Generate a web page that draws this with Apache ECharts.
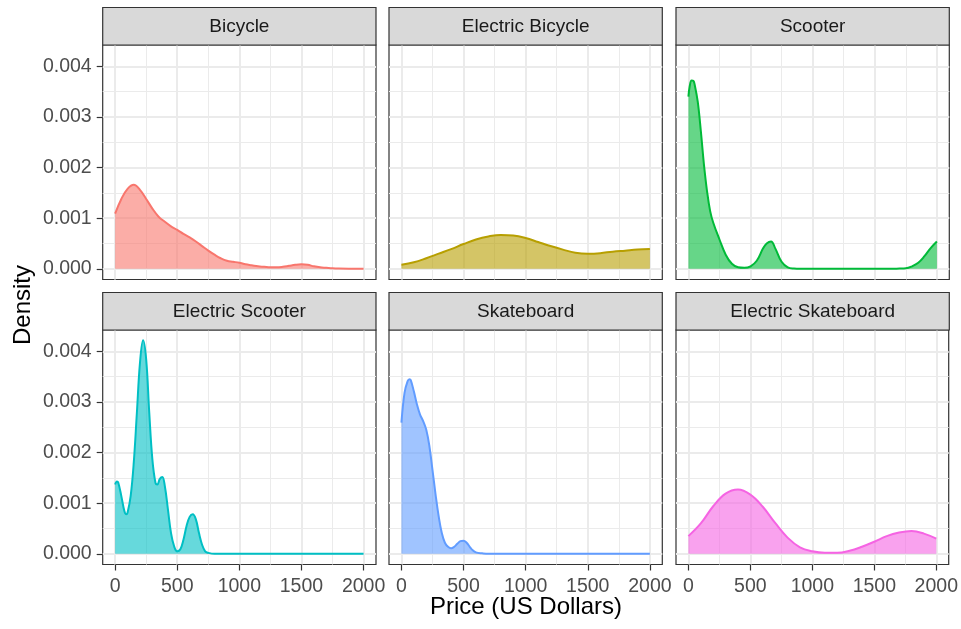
<!DOCTYPE html>
<html><head><meta charset="utf-8">
<script src="https://cdn.jsdelivr.net/npm/echarts@6/dist/echarts.min.js"></script>
<style>html,body{margin:0;padding:0;background:#fff}#chart{width:961px;height:629px}</style>
</head><body><div id="chart"></div>
<script>
// ---- data ----
const categories = ['Bicycle', 'Electric Bicycle', 'Scooter', 'Electric Scooter', 'Skateboard', 'Electric Skateboard'];
const colors = ['#F8766D', '#B79F00', '#00BA38', '#00BFC4', '#619CFF', '#F564E3'];
const xTicks = [0, 500, 1000, 1500, 2000];
const xMinorTicks = [250, 750, 1250, 1750];
const yTicks = [0, 0.001, 0.002, 0.003, 0.004];
const yMinorTicks = [0.0005, 0.0015, 0.0025, 0.0035];

const priceBicycle = [0,50,100,150,200,250,300,350,400,450,500,550,600,650,700,750,800,850,900,950,1000,1050,1100,1150,1200,1250,1300,1350,1400,1450,1500,1550,1600,1650,1700,1750,1800,1900,2000];
const densityBicycle = [0.00109,0.00138,0.00158,0.00166,0.00156,0.00138,0.00119,0.00103,0.00093,0.00084,0.00077,0.00069,0.00062,0.00054,0.00045,0.00036,0.00028,0.00021,0.00016,0.00014,0.00012,0.00009,0.00007,0.00005,0.00004,0.00003,0.00003,0.00004,0.00006,0.00008,0.00009,0.00008,0.00005,0.00003,0.00002,0.00001,0.000005,0.000002,0.000001];

const priceEBicycle = [0,100,200,300,400,500,600,700,800,900,1000,1100,1200,1300,1400,1500,1600,1700,1800,1900,2000];
const densityEBicycle = [0.00008,0.00013,0.00021,0.0003,0.00039,0.00049,0.00058,0.00064,0.00067,0.00066,0.00061,0.00053,0.00045,0.00038,0.00032,0.0003,0.00031,0.00034,0.00036,0.00038,0.00039];

const priceScooter = [0,10,25,40,50,75,100,125,150,175,200,250,300,350,400,450,500,550,600,630,665,700,750,800,850,900,1000,1200,1400,1600,1700,1750,1800,1850,1900,1950,2000];
const densityScooter = [0.0034,0.0036,0.00372,0.00371,0.00364,0.0033,0.00272,0.00206,0.00153,0.00114,0.00091,0.00058,0.00028,0.0001,0.00003,0.00002,0.00005,0.00016,0.0004,0.0005,0.00054,0.0004,0.00014,0.00003,0.000005,0,0,0,0,0,0.000005,0.00001,0.00005,0.00012,0.00025,0.00041,0.00054];

const priceEScooter = [0,15,25,50,75,90,100,125,150,175,200,225,250,275,300,325,340,360,380,400,425,450,475,500,525,550,575,600,625,650,675,700,725,750,800,900,1000,1500,2000];
const densityEScooter = [0.00137,0.00143,0.00141,0.00114,0.00084,0.00078,0.00081,0.00114,0.0018,0.00278,0.00377,0.00422,0.00384,0.00278,0.00186,0.0014,0.00137,0.00148,0.00152,0.00134,0.00088,0.00041,0.00015,0.00005,0.00009,0.00028,0.00055,0.00073,0.00078,0.00068,0.00041,0.00018,0.00005,0.00002,0,0,0,0,0];

const priceSkateboard = [0,25,50,65,75,100,125,150,175,200,225,250,275,300,325,350,375,400,425,450,475,500,525,550,575,600,650,700,800,1000,1500,2000];
const densitySkateboard = [0.00259,0.00318,0.00341,0.00345,0.00343,0.00321,0.00295,0.00275,0.00262,0.00245,0.00213,0.00166,0.00117,0.00074,0.00041,0.00022,0.00014,0.00011,0.00014,0.0002,0.00025,0.00026,0.00022,0.00014,0.00007,0.00003,0.00001,0,0,0,0,0];

const priceESkateboard = [0,100,200,300,400,500,600,700,800,900,1000,1100,1200,1300,1400,1500,1600,1700,1800,1900,2000];
const densityESkateboard = [0.00035,0.0006,0.00094,0.00119,0.00127,0.00117,0.00093,0.00061,0.00032,0.00013,0.00005,0.00002,0.00002,0.00006,0.00014,0.00024,0.00035,0.00042,0.00045,0.0004,0.0003];

const prices = [priceBicycle, priceEBicycle, priceScooter, priceEScooter, priceSkateboard, priceESkateboard];
const densities = [densityBicycle, densityEBicycle, densityScooter, densityEScooter, densitySkateboard, densityESkateboard];

// ---- layout ----
const FONT = 'Liberation Sans, Arial, Helvetica, sans-serif';
const panelLefts = [102.7, 389, 676];
const panelTops = [45, 330];
const panelW = 273.3, panelH = 234.5, stripH = 37.5;
const xMin = -100, xMax = 2100, yMin = -0.00021, yMax = 0.00442;

const grids = [], xAxes = [], yAxes = [], series = [], graphics = [];
categories.forEach((name, i) => {
  const r = Math.floor(i / 3), c = i % 3;
  grids.push({left: panelLefts[c], top: panelTops[r], width: panelW, height: panelH,
    show: true, borderColor: '#333333', borderWidth: 1.2, backgroundColor: '#ffffff'});
  xAxes.push({type: 'value', gridIndex: i, min: xMin, max: xMax, position: 'bottom',
    axisLine: {show: false, onZero: false},
    axisTick: {show: r === 1, length: 6, lineStyle: {color: '#333333', width: 1.2}, customValues: xTicks},
    axisLabel: {show: r === 1, customValues: xTicks, color: '#4d4d4d', fontSize: 19.5, fontFamily: FONT, margin: 12,
      formatter: v => String(v)},
    splitLine: {show: true, lineStyle: {color: '#ebebeb', width: 2}}});
  xAxes.push({type: 'value', gridIndex: i, min: xMin, max: xMax, position: 'top',
    axisLine: {show: false, onZero: false},
    axisTick: {show: false, customValues: xMinorTicks},
    axisLabel: {show: false, customValues: xMinorTicks},
    splitLine: {show: true, lineStyle: {color: '#ebebeb', width: 1}}});
  yAxes.push({type: 'value', gridIndex: i, min: yMin, max: yMax, position: 'left',
    axisLine: {show: false, onZero: false},
    axisTick: {show: c === 0, length: 6, lineStyle: {color: '#333333', width: 1.2}, customValues: yTicks},
    axisLabel: {show: c === 0, customValues: yTicks, color: '#4d4d4d', fontSize: 19.5, fontFamily: FONT, margin: 11,
      formatter: v => v.toFixed(3)},
    splitLine: {show: true, lineStyle: {color: '#ebebeb', width: 2}}});
  yAxes.push({type: 'value', gridIndex: i, min: yMin, max: yMax, position: 'right',
    axisLine: {show: false, onZero: false},
    axisTick: {show: false, customValues: yMinorTicks},
    axisLabel: {show: false, customValues: yMinorTicks},
    splitLine: {show: true, lineStyle: {color: '#ebebeb', width: 1}}});
  series.push({type: 'line', name: name, xAxisIndex: 2 * i, yAxisIndex: 2 * i,
    data: prices[i].map((p, k) => [p, densities[i][k]]),
    smooth: 0.4, symbol: 'none', silent: true,
    lineStyle: {color: colors[i], width: 2},
    itemStyle: {color: colors[i]},
    areaStyle: {color: colors[i], opacity: 0.6}});
  // strip
  graphics.push({type: 'rect', shape: {x: panelLefts[c], y: panelTops[r] - stripH, width: panelW, height: stripH},
    style: {fill: '#d9d9d9', stroke: '#333333', lineWidth: 1.2}, z: 10});
  graphics.push({type: 'text', x: panelLefts[c] + panelW / 2, y: panelTops[r] - stripH / 2 + 0.5,
    style: {text: name, fill: '#1a1a1a', font: '19px ' + FONT, align: 'center', verticalAlign: 'middle'}, z: 11});
});
graphics.push({type: 'text', x: 526, y: 607,
  style: {text: 'Price (US Dollars)', fill: '#000000', font: '24px ' + FONT, align: 'center', verticalAlign: 'middle'}});
graphics.push({type: 'text', x: 23, y: 305, rotation: Math.PI / 2,
  style: {text: 'Density', fill: '#000000', font: '24px ' + FONT, align: 'center', verticalAlign: 'middle'}});

const chart = echarts.init(document.getElementById('chart'), null, {renderer: 'canvas'});
chart.setOption({
  animation: false,
  backgroundColor: '#ffffff',
  grid: grids, xAxis: xAxes, yAxis: yAxes, series: series, graphic: graphics
});
</script></body></html>
